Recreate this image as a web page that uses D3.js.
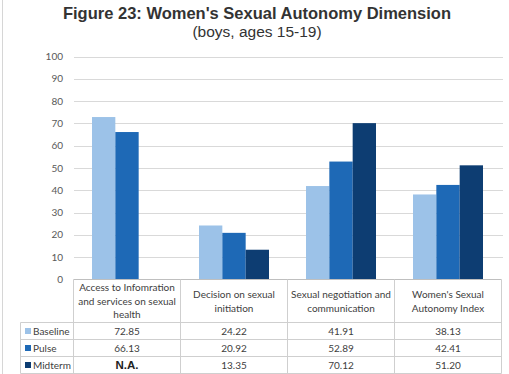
<!DOCTYPE html>
<html>
<head>
<meta charset="utf-8">
<script src="https://cdn.jsdelivr.net/npm/d3@7"></script>
<style>
  body { margin: 0; background: #fff; }
  svg { display: block; }
</style>
</head>
<body>
<svg id="chart"></svg>
<script>
"use strict";

let width = 509;
let height = 374;

// data
const categories = [
  ["Access to Infomration", "and services on sexual", "health"],
  ["Decision on sexual", "initiation"],
  ["Sexual negotiation and", "communication"],
  ["Women's Sexual", "Autonomy Index"]
];
const seriesNames = ["Baseline", "Pulse", "Midterm"];
const baseline = [72.85, 24.22, 41.91, 38.13];
const pulse = [66.13, 20.92, 52.89, 42.41];
const midterm = [null, 13.35, 70.12, 51.20];
const yTicks = [0, 10, 20, 30, 40, 50, 60, 70, 80, 90, 100];
const colors = ["#9cc2e8", "#1e69b6", "#0d3d72"];

const seriesValues = [baseline, pulse, midterm];

let svg = d3.select("#chart").attr("width", width).attr("height", height);

// frame line on the left, like the scanned page
svg.append("line")
  .attr("x1", 2.5).attr("x2", 2.5).attr("y1", 0).attr("y2", height)
  .style("stroke", "#d6d6d6");

// Title
svg.append("text")
  .attr("x", 257).attr("y", 19)
  .attr("text-anchor", "middle")
  .style("font-family", "'Liberation Sans', Arial, sans-serif")
  .style("font-weight", "bold")
  .style("font-size", "16.5px")
  .style("fill", "#333")
  .text("Figure 23: Women's Sexual Autonomy Dimension");
svg.append("text")
  .attr("x", 257).attr("y", 37)
  .attr("text-anchor", "middle")
  .style("font-family", "'Liberation Sans', Arial, sans-serif")
  .style("font-size", "15.5px")
  .style("fill", "#333")
  .text("(boys, ages 15-19)");

// Scales
let xScale = d3.scaleBand()
  .domain(d3.range(categories.length))
  .range([73.5, 501.5])
  .padding(0);

let inner = d3.scaleBand()
  .domain(seriesNames)
  .range([18.5, xScale.bandwidth() - 18.5])
  .padding(0);

let yScale = d3.scaleLinear()
  .domain([0, 100])
  .range([279.5, 56.5]);

// gridlines + tick labels
let yAxis = svg.append("g").attr("class", "y-axis");
yAxis.selectAll("line")
  .data(yTicks.filter(d => d > 0))
  .enter()
  .append("line")
    .attr("x1", 74)
    .attr("x2", 503)
    .attr("y1", d => Math.round(yScale(d)) + 0.5)
    .attr("y2", d => Math.round(yScale(d)) + 0.5)
    .style("stroke", "#d9d9d9")
    .style("stroke-width", 1);
yAxis.selectAll("text")
  .data(yTicks)
  .enter()
  .append("text")
    .attr("x", 63)
    .attr("y", d => yScale(d) + 3.5)
    .attr("text-anchor", "end")
    .style("font-family", "Lato, 'Liberation Sans', sans-serif")
    .style("font-size", "10px")
    .style("fill", "#595959")
    .text(d => d);

// bars
let groups = svg.selectAll("g.cat")
  .data(categories.map((c, i) => i))
  .enter()
  .append("g")
    .attr("class", "cat")
    .attr("transform", d => `translate(${xScale(d)},0)`);

groups.selectAll("rect")
  .data(i => seriesNames.map((s, k) => ({ series: s, k: k, value: seriesValues[k][i] }))
    .filter(d => d.value !== null))
  .enter()
  .append("rect")
    .attr("x", d => inner(d.series))
    .attr("y", d => yScale(d.value))
    .attr("width", inner.bandwidth())
    .attr("height", d => yScale(0) - yScale(d.value))
    .style("fill", d => colors[d.k]);

// data table
const rowTop = 279.5;
const headerBottom = 322.5;
const rowH = 17;
const tableFont = "Lato, 'Liberation Sans', sans-serif";
let table = svg.append("g").attr("class", "table");

// horizontal rules
table.append("line")
  .attr("x1", 73.5).attr("x2", 501.5).attr("y1", rowTop).attr("y2", rowTop)
  .style("stroke", "#bfbfbf");
seriesNames.forEach((s, k) => {
  let y = headerBottom + k * rowH;
  table.append("line")
    .attr("x1", 20.5).attr("x2", 501.5).attr("y1", y).attr("y2", y)
    .style("stroke", "#cfcfcf");
});
table.append("line")
  .attr("x1", 20.5).attr("x2", 501.5)
  .attr("y1", headerBottom + 3 * rowH).attr("y2", headerBottom + 3 * rowH)
  .style("stroke", "#cfcfcf");

// vertical rules
table.append("line")
  .attr("x1", 20.5).attr("x2", 20.5)
  .attr("y1", headerBottom).attr("y2", headerBottom + 3 * rowH)
  .style("stroke", "#cfcfcf");
d3.range(categories.length + 1).forEach(i => {
  let x = i < categories.length ? xScale(i) : xScale.range()[1];
  table.append("line")
    .attr("x1", x).attr("x2", x)
    .attr("y1", rowTop).attr("y2", headerBottom + 3 * rowH)
    .style("stroke", "#cfcfcf");
});

// header labels
categories.forEach((lines, i) => {
  let cx = xScale(i) + xScale.bandwidth() / 2;
  let start = lines.length === 3 ? 291 : 298;
  lines.forEach((t, j) => {
    table.append("text")
      .attr("x", cx)
      .attr("y", start + j * 13.5)
      .attr("text-anchor", "middle")
      .style("font-family", tableFont)
      .style("font-size", "10px")
      .style("fill", "#404040")
      .text(t);
  });
});

// legend column + values
seriesNames.forEach((s, k) => {
  let y = headerBottom + k * rowH;
  table.append("rect")
    .attr("x", 25).attr("y", y + 5.5)
    .attr("width", 6).attr("height", 6)
    .style("fill", colors[k]);
  table.append("text")
    .attr("x", 33).attr("y", y + 12.5)
    .style("font-family", tableFont)
    .style("font-size", "10px")
    .style("fill", "#404040")
    .text(s);
  seriesValues[k].forEach((v, i) => {
    let na = v === null;
    table.append("text")
      .attr("x", xScale(i) + xScale.bandwidth() / 2)
      .attr("y", y + 12.5)
      .attr("text-anchor", "middle")
      .style("font-family", na ? "'Liberation Sans', Arial, sans-serif" : tableFont)
      .style("font-size", na ? "11.5px" : "10px")
      .style("font-weight", na ? "bold" : "normal")
      .style("fill", na ? "#222" : "#404040")
      .text(na ? "N.A." : v.toFixed(2));
  });
});
</script>
</body>
</html>
